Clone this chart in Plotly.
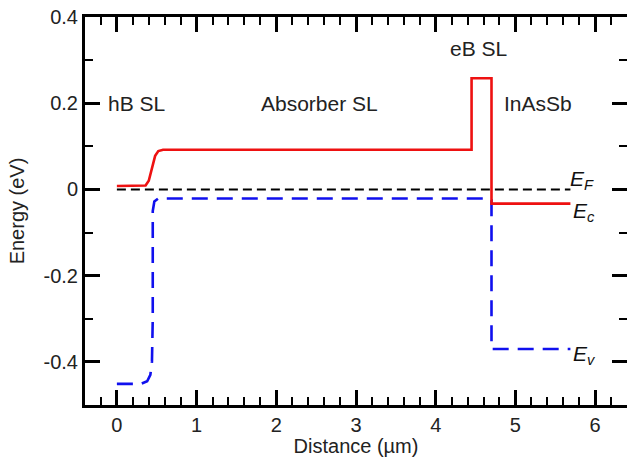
import plotly.graph_objects as go

# Band-edge profile of the nBn-type structure (energy in eV vs distance in µm)
ec_x = [0.0, 0.36, 0.40, 0.44, 0.48, 0.52, 0.58, 4.45, 4.45, 4.70, 4.70, 5.69]
ec_y = [0.008, 0.009, 0.02, 0.05, 0.078, 0.089, 0.092, 0.092, 0.258, 0.258, -0.033, -0.033]

ev_x = [0.0, 0.30, 0.38, 0.42, 0.44, 0.45, 0.45, 0.47, 0.52, 4.65, 4.70, 4.70, 5.69]
ev_y = [-0.451, -0.451, -0.445, -0.43, -0.40, -0.30, -0.05, -0.028, -0.021, -0.021, -0.025, -0.37, -0.37]

ef_x = [0.0, 5.69]
ef_y = [0.0, 0.0]

x_ticks = [0, 1, 2, 3, 4, 5, 6]
y_ticks = [-0.4, -0.2, 0, 0.2, 0.4]
y_tick_text = ["-0.4", "-0.2", "0", "0.2", "0.4"]

region_labels = ["hB SL", "Absorber SL", "eB SL", "InAsSb"]
region_x = [0.25, 2.54, 4.54, 5.28]
region_y = [0.20, 0.20, 0.327, 0.20]

FONT = "Liberation Sans, Arial, sans-serif"

fig = go.Figure()
fig.add_trace(go.Scatter(x=ef_x, y=ef_y, mode="lines",
                         line=dict(color="black", width=2, dash="9px,5px")))
fig.add_trace(go.Scatter(x=ev_x, y=ev_y, mode="lines",
                         line=dict(color="#1010ee", width=2.6, dash="16px,9px")))
fig.add_trace(go.Scatter(x=ec_x, y=ec_y, mode="lines",
                         line=dict(color="#ee1111", width=2.6)))

for t, x, y in zip(region_labels, region_x, region_y):
    fig.add_annotation(x=x, y=y, text=t, showarrow=False,
                       font=dict(size=21, color="#222", family=FONT))

band_labels = ["<i>E</i><sub><i>F</i></sub>", "<i>E</i><sub><i>c</i></sub>",
               "<i>E</i><sub><i>v</i></sub>"]
band_x = [5.66, 5.70, 5.70]
band_y = [0.022, -0.052, -0.384]
for t, x, y in zip(band_labels, band_x, band_y):
    fig.add_annotation(x=x, y=y, text=t, showarrow=False, xanchor="left",
                       font=dict(size=21, color="#111", family=FONT))

axis_common = dict(showline=True, linecolor="black", linewidth=3, mirror="allticks",
                   ticks="inside", ticklen=15, tickwidth=2.5, tickcolor="black",
                   showgrid=False, zeroline=False, automargin=False,
                   tickfont=dict(size=20, color="#222", family=FONT))

fig.update_xaxes(range=[-0.4, 6.4], tickvals=x_ticks,
                 minor=dict(dtick=0.2, ticks="inside", ticklen=8, tickwidth=2, tickcolor="black"),
                 title=dict(text="Distance (µm)", standoff=0,
                            font=dict(size=20, color="#222", family=FONT)),
                 **axis_common)
fig.update_yaxes(range=[-0.5, 0.4], tickvals=y_ticks, ticktext=y_tick_text,
                 minor=dict(dtick=0.1, ticks="inside", ticklen=8, tickwidth=2, tickcolor="black"),
                 title=dict(text="Energy (eV)", standoff=14,
                            font=dict(size=20, color="#222", family=FONT)),
                 **axis_common)

fig.update_layout(width=627, height=457, showlegend=False,
                  margin=dict(l=85, r=0, t=17, b=52),
                  paper_bgcolor="white", plot_bgcolor="white")

fig.write_html("out.html")
